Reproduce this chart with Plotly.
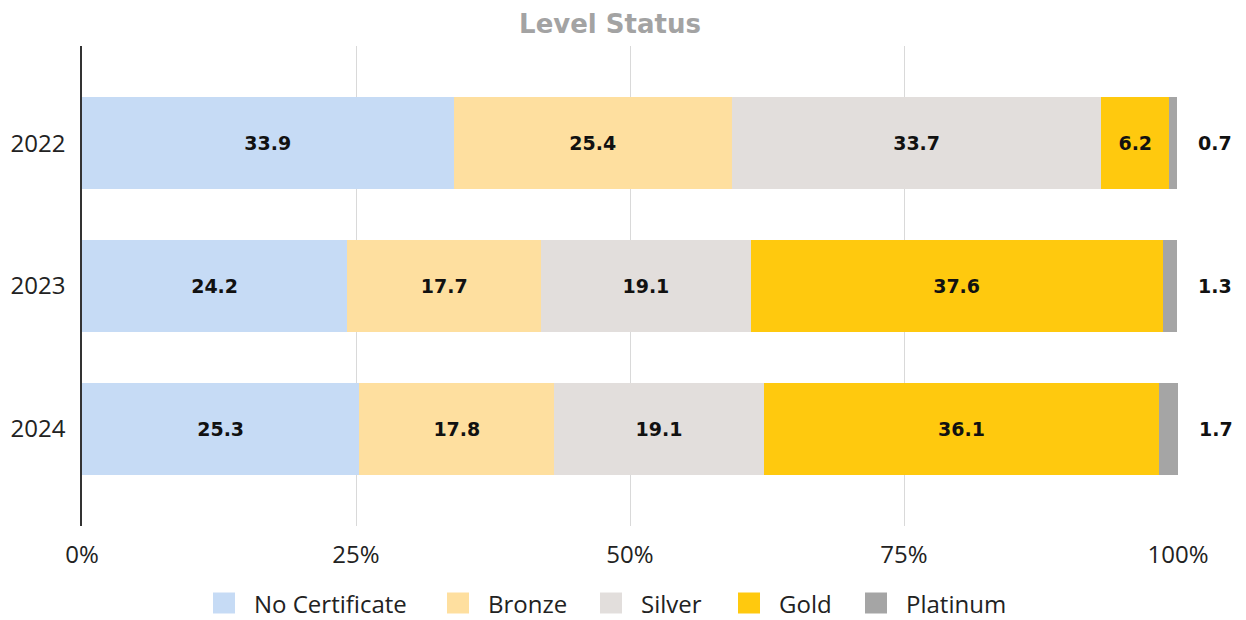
import plotly.graph_objects as go

years = ["2022", "2023", "2024"]
series_names = ["No Certificate", "Bronze", "Silver", "Gold", "Platinum"]
no_cert = [33.9, 24.2, 25.3]
bronze = [25.4, 17.7, 17.8]
silver = [33.7, 19.1, 19.1]
gold = [6.2, 37.6, 36.1]
platinum = [0.7, 1.3, 1.7]
tick_vals = [0, 25, 50, 75, 100]
tick_text = ["0%", "25%", "50%", "75%", "100%"]

colors = ["#C6DBF5", "#FEDF9F", "#E2DEDC", "#FFC90E", "#A5A5A5"]
values = [no_cert, bronze, silver, gold, platinum]

# layout geometry (figure pixels)
W, H = 1246, 620
ML, MR, MT, MB = 74, 76, 38, 102
PW = W - ML - MR
PH = H - MT - MB


def px_to_paper_x(px):
    return (px - ML) / PW


def px_to_paper_y(py):
    return (H - MB - py) / PH


fig = go.Figure()
for name, vals, col in zip(series_names, values, colors):
    inside = name != "Platinum"
    fig.add_trace(go.Bar(
        y=years, x=vals, name=name, orientation="h",
        marker=dict(color=col, line=dict(width=0)),
        text=[f"{v:.1f}" for v in vals] if inside else None,
        textposition="inside" if inside else "none",
        insidetextanchor="middle",
        textfont=dict(family="DejaVu Sans", size=19, color="#111111", weight="bold"),
        hoverinfo="x+name",
        showlegend=False,
    ))

# outside labels for Platinum, placed after the end of each stacked bar
totals = [a + b + c + d + e for a, b, c, d, e in zip(no_cert, bronze, silver, gold, platinum)]
for i, (t, p) in enumerate(zip(totals, platinum)):
    fig.add_annotation(x=t / 100, y=i, xref="paper", yref="y", text=f"<b>{p:.1f}</b>",
                       showarrow=False, xanchor="left", xshift=19,
                       font=dict(family="DejaVu Sans", size=19, color="#111111"))

# custom legend (larger swatches like the reference)
legend_swatch_x = [205, 439, 592, 730, 857]
sw_w, sw_h = 22, 21
legend_y_center = 595
for name, col, lx in zip(series_names, colors, legend_swatch_x):
    fig.add_shape(type="rect", xref="paper", yref="paper",
                  x0=px_to_paper_x(lx), x1=px_to_paper_x(lx + sw_w),
                  y0=px_to_paper_y(legend_y_center + sw_h / 2),
                  y1=px_to_paper_y(legend_y_center - sw_h / 2),
                  fillcolor=col, line=dict(width=0), layer="above")
    fig.add_annotation(x=px_to_paper_x(lx + sw_w + 17), y=px_to_paper_y(legend_y_center),
                       xref="paper", yref="paper", text=name, showarrow=False,
                       xanchor="left", yanchor="middle",
                       font=dict(family="Open Sans", size=24, color="#222222"))

fig.update_layout(
    barmode="stack",
    bargap=0.36,
    width=W, height=H,
    margin=dict(l=ML, r=MR, t=MT, b=MB),
    paper_bgcolor="white", plot_bgcolor="white",
    title=dict(text="<b>Level Status</b>", x=602 / W, xanchor="center", y=1 - 16 / H, yanchor="middle",
               font=dict(family="DejaVu Sans", size=26, color="#A3A3A3")),
    showlegend=False,
    uniformtext=dict(mode="show", minsize=10),
)
fig.update_xaxes(range=[0, 100], tickvals=tick_vals, ticktext=tick_text,
                 showgrid=True, gridcolor="#D9D9D9", gridwidth=1,
                 zeroline=False, showline=False, automargin=False,
                 tickfont=dict(family="Open Sans", size=24, color="#222222"),
                 ticks="", ticklabelstandoff=12)
fig.update_yaxes(type="category", categoryorder="array", categoryarray=years, range=[2.68, -0.68],
                 showline=True, linecolor="#333333", linewidth=1.5, automargin=False,
                 showgrid=False, zeroline=False, ticks="",
                 tickfont=dict(family="Open Sans", size=24, color="#222222"),
                 ticklabelstandoff=10)

fig.write_html("out.html")
